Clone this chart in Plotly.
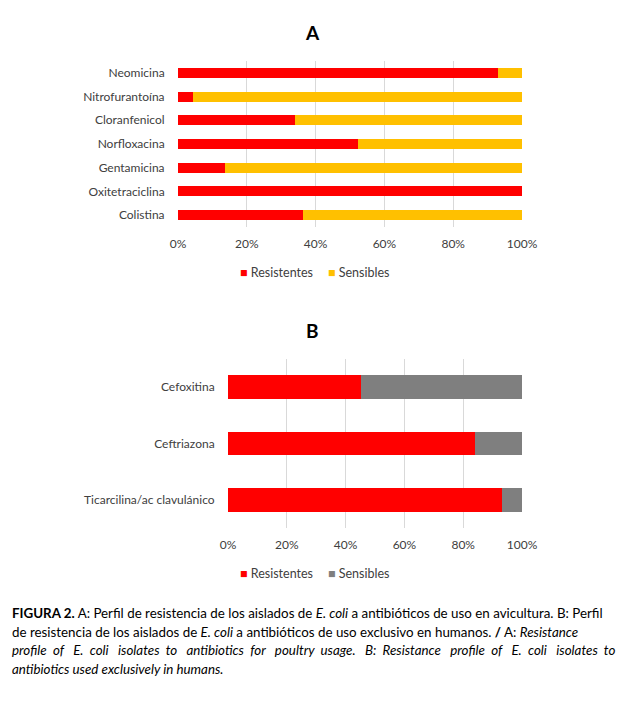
import plotly.graph_objects as go

# Chart A data
cats_a = ["Neomicina", "Nitrofurantoína", "Cloranfenicol", "Norfloxacina",
          "Gentamicina", "Oxitetraciclina", "Colistina"]
res_a = [93.0, 4.4, 34.0, 52.3, 13.7, 100.0, 36.3]
sen_a = [7.0, 95.6, 66.0, 47.7, 86.3, 0.0, 63.7]

# Chart B data
cats_b = ["Cefoxitina", "Ceftriazona", "Ticarcilina/ac clavulánico"]
res_b = [45.4, 84.0, 93.2]
sen_b = [54.6, 16.0, 6.8]

tick_vals = [0, 20, 40, 60, 80, 100]
tick_text = ["0%", "20%", "40%", "60%", "80%", "100%"]

RED = "#FF0000"
YEL = "#FFC000"
GRY = "#7F7F7F"
FONT = "Lato"
TXT = "#404040"
W, H = 624, 703
OFF = 8  # page body margin

fig = go.Figure()
fig.add_trace(go.Bar(y=cats_a, x=res_a, orientation="h", name="Resistentes",
                     marker=dict(color=RED, line=dict(width=0)), xaxis="x", yaxis="y"))
fig.add_trace(go.Bar(y=cats_a, x=sen_a, orientation="h", name="Sensibles",
                     marker=dict(color=YEL, line=dict(width=0)), xaxis="x", yaxis="y"))
fig.add_trace(go.Bar(y=cats_b, x=res_b, orientation="h", name="Resistentes",
                     marker=dict(color=RED, line=dict(width=0)), xaxis="x2", yaxis="y2"))
fig.add_trace(go.Bar(y=cats_b, x=sen_b, orientation="h", name="Sensibles",
                     marker=dict(color=GRY, line=dict(width=0)), xaxis="x2", yaxis="y2"))

def px_x(p):
    return (p - OFF) / W

def px_y(p):
    return 1 - (p - OFF) / H

xcommon = dict(range=[0, 100], tickvals=tick_vals, ticktext=tick_text, showgrid=True,
               gridcolor="#D9D9D9", gridwidth=1, zeroline=False, showline=False,
               ticks="outside", ticklen=6, tickcolor="rgba(0,0,0,0)", automargin=False,
               tickfont=dict(family=FONT, size=12, color=TXT), fixedrange=True)
ycommon = dict(autorange="reversed", showgrid=False, zeroline=False, showline=False,
               ticks="outside", ticklen=10, tickcolor="rgba(0,0,0,0)", automargin=False,
               tickfont=dict(family=FONT, size=12, color=TXT), fixedrange=True)

fig.update_layout(
    template="none",
    width=W, height=H,
    margin=dict(l=0, r=0, t=0, b=0, pad=0, autoexpand=False),
    paper_bgcolor="white", plot_bgcolor="white",
    barmode="stack", bargap=0.58,
    font=dict(family=FONT, size=12, color=TXT),
    xaxis=dict(domain=[px_x(178), px_x(522)], anchor="y", **xcommon),
    yaxis=dict(domain=[px_y(227), px_y(61)], anchor="x", **ycommon),
    xaxis2=dict(domain=[px_x(228), px_x(522)], anchor="y2", **xcommon),
    yaxis2=dict(domain=[px_y(528), px_y(359)], anchor="x2", **ycommon),
    showlegend=False,
)

def ann(text, x, y, size, color="black", xanchor="center"):
    fig.add_annotation(text=text, x=px_x(x), y=px_y(y), xref="paper", yref="paper",
                       xanchor=xanchor, yanchor="middle", showarrow=False, align="left",
                       font=dict(family=FONT, size=size, color=color))

ann("<b>A</b>", 312, 32, 19)
ann("<b>B</b>", 312, 330, 19)

# legends
ann(f"<span style='color:{RED}'>■</span> Resistentes", 238, 272, 12.5, TXT, "left")
ann(f"<span style='color:{YEL}'>■</span> Sensibles", 326, 272, 12.5, TXT, "left")
ann(f"<span style='color:{RED}'>■</span> Resistentes", 238, 573, 12.5, TXT, "left")
ann(f"<span style='color:{GRY}'>■</span> Sensibles", 326, 573, 12.5, TXT, "left")

words3 = "profile of E. coli isolates to antibiotics for poultry usage. B: Resistance profile of E. coli isolates to".split(" ")
line3 = words3[0]
for i, w in enumerate(words3[1:]):
    line3 += ("&nbsp;&nbsp; " if i % 2 == 1 else "&nbsp; ") + w

caption_lines = [
    "<b>FIGURA 2.</b> A: Perfil de resistencia de los aislados de <i>E. coli</i> a antibióticos de uso en avicultura. B: Perfil",
    "de resistencia de los aislados de <i>E. coli</i> a antibióticos de uso exclusivo en humanos. <b>/</b> A: <i>Resistance</i>",
    "<i>" + line3 + "</i>",
    "<i>antibiotics used exclusively in humans.</i>",
]
caption_y = [613, 632, 650, 669]
for line, yy in zip(caption_lines, caption_y):
    ann(line, 10, yy, 13.35, "black", "left")

fig.write_html("out.html")
